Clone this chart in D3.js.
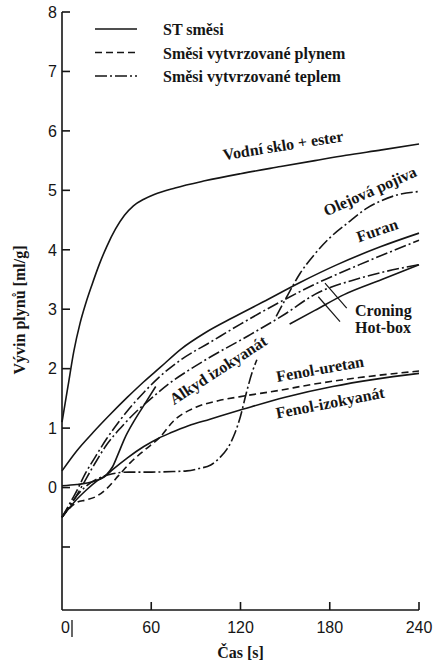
<!DOCTYPE html>
<html>
<head>
<meta charset="utf-8">
<script src="https://cdn.jsdelivr.net/npm/d3@7/dist/d3.min.js"></script>
<style>
    body { margin: 0; background: #fff; }
    svg { display: block; }
</style>
</head>
<body>
<div id="chart"></div>
<script>
// x = cas [s], y = vyvin plynu [ml/g]
var xTicks = [0, 60, 120, 180, 240];
var yTicks = [-1, 0, 1, 2, 3, 4, 5, 6, 7, 8];
var yTickLabels = ['', '0', '1', '2', '3', '4', '5', '6', '7', '8'];

var vodniSklo = [[0, 1.1], [4, 1.7], [8, 2.3], [12, 2.75], [16, 3.1], [20, 3.4], [25, 3.75], [30, 4.05], [36, 4.35], [42, 4.58],
    [48, 4.74], [55, 4.85], [62, 4.93], [76, 5.04], [96, 5.16], [120, 5.28], [147, 5.4], [170, 5.5], [191, 5.59], [215, 5.68], [240, 5.78]];
var furan = [[0, 0.28], [10, 0.62], [21, 0.93], [32, 1.22], [44, 1.52], [55, 1.78], [66, 2.02], [80, 2.33], [96, 2.6], [115, 2.86],
    [135, 3.12], [160, 3.45], [185, 3.75], [214, 4.05], [240, 4.28]];
var fenolIzokyanat = [[0, 0.03], [10, 0.05], [21, 0.1], [28, 0.17], [34, 0.3], [44, 0.5], [55, 0.69], [65, 0.83], [73, 0.92], [85, 1.04],
    [99.5, 1.15], [122, 1.32], [150, 1.52], [182, 1.7], [210, 1.82], [240, 1.92]];
var alkydIzokyanat = [[0, -0.5], [8, -0.25], [16, -0.05], [24, 0.12], [30, 0.22], [34, 0.35], [38, 0.58], [42, 0.82], [48, 1.1],
    [56, 1.42], [63, 1.7], null, [153, 2.75], [170, 2.98], [190, 3.25], [215, 3.5], [240, 3.75]];
var fenolUretan = [[0, -0.5], [5, -0.35], [10, -0.25], [16, -0.21], [23, -0.15], [30, -0.02], [38, 0.2], [46, 0.42], [55, 0.62],
    [66, 0.85], [75, 1.12], [90, 1.35], [105, 1.46], [120, 1.53], [145, 1.63], [167, 1.73], [200, 1.85], [240, 1.96]];
var olejovaPojiva = [[0, -0.5], [8, -0.2], [16, 0.02], [24, 0.15], [32, 0.22], [45, 0.26], [60, 0.26], [75, 0.27], [84, 0.28],
    [92, 0.32], [100, 0.38], [106, 0.5], [111, 0.65], [116, 0.9], [120, 1.2], [124, 1.6], [128, 1.95], [131, 2.15], null,
    [144, 2.88], [152, 3.25], [160, 3.6], [170, 3.93], [180, 4.2], [192, 4.45], [205, 4.7], [215, 4.83], [225, 4.92], [240, 4.98]];
var croning = [[0, -0.5], [5, -0.28], [10, -0.05], [16, 0.25], [22, 0.5], [30, 0.82], [38, 1.1], [46, 1.35], [55, 1.6], [65, 1.85],
    [80, 2.15], [100, 2.45], [120, 2.75], [145, 3.1], [170, 3.42], [200, 3.75], [240, 4.16]];
var hotBox = [[0, -0.5], [7, -0.25], [14, 0.05], [22, 0.4], [30, 0.72], [40, 1.02], [50, 1.28], [60, 1.5], [72, 1.75], [85, 1.97],
    [100, 2.2], [125, 2.55], [150, 2.92], [170, 3.25], [200, 3.52], [240, 3.75]];

var series = [
    { name: 'vodniSklo', values: vodniSklo, style: 'solid' },
    { name: 'furan', values: furan, style: 'solid' },
    { name: 'fenolIzokyanat', values: fenolIzokyanat, style: 'solid' },
    { name: 'alkydIzokyanat', values: alkydIzokyanat, style: 'solid' },
    { name: 'fenolUretan', values: fenolUretan, style: 'dashed' },
    { name: 'olejovaPojiva', values: olejovaPojiva, style: 'dashdot' },
    { name: 'croning', values: croning, style: 'dashdot' },
    { name: 'hotBox', values: hotBox, style: 'dashdot' }
];

var legendItems = [
    { label: 'ST směsi', style: 'solid' },
    { label: 'Směsi vytvrzované plynem', style: 'dashed' },
    { label: 'Směsi vytvrzované teplem', style: 'dashdot' }
];

// curve labels: text, position in data units, rotation
var curveLabels = [
    { text: 'Vodní sklo + ester', t: 148.6, v: 5.76, rot: -9 },
    { text: 'Olejová pojiva', t: 207, v: 4.99, rot: -24 },
    { text: 'Furan', t: 211.8, v: 4.33, rot: -19 },
    { text: 'Alkyd izokyanát', t: 104.9, v: 1.98, rot: -33 },
    { text: 'Fenol-uretan', t: 173.4, v: 2.0, rot: -10 },
    { text: 'Fenol-izokyanát', t: 180.2, v: 1.43, rot: -11 }
];
var pointerLabels = [
    { text: 'Croning', t: 197, v: 2.88, from: [191.4, 3.02], to: [176.8, 3.44] },
    { text: 'Hot-box', t: 197, v: 2.6, from: [186.9, 2.79], to: [172.3, 3.21] }
];

var dashes = { solid: null, dashed: '7,4', dashdot: '12,3,2,3' };
var ink = '#151515';
var serif = '"Liberation Serif", "Times New Roman", serif';
var sans = '"Liberation Sans", Arial, sans-serif';

var width = 438, height = 665;
var svg = d3.select('#chart').append('svg')
    .attr('width', width)
    .attr('height', height);

var x = d3.scaleLinear().domain([0, 240]).range([62, 419]);
var y = d3.scaleLinear().domain([-2.06, 8]).range([610, 12]);

// axes
var axisG = svg.append('g').attr('stroke', ink).attr('stroke-width', 1.6);
axisG.append('line').attr('x1', x(0)).attr('x2', x(0)).attr('y1', y(8)).attr('y2', y(-2.06));
axisG.append('line').attr('x1', x(0)).attr('x2', x(240)).attr('y1', y(-2.06)).attr('y2', y(-2.06));

axisG.selectAll('.ytick').data(yTicks).enter().append('line')
    .attr('x1', x(0)).attr('x2', x(0) + 8)
    .attr('y1', function (d) { return y(d); })
    .attr('y2', function (d) { return y(d); });
axisG.selectAll('.xtick').data(xTicks.slice(1)).enter().append('line')
    .attr('x1', function (d) { return x(d); })
    .attr('x2', function (d) { return x(d); })
    .attr('y1', y(-2.06)).attr('y2', y(-2.06) - 8);

svg.selectAll('.ylab').data(yTicks).enter().append('text')
    .attr('x', x(0) - 5)
    .attr('y', function (d) { return y(d); })
    .attr('dy', '0.36em')
    .attr('text-anchor', 'end')
    .style('font-family', sans).style('font-size', '16px').attr('fill', ink)
    .text(function (d, i) { return yTickLabels[i]; });

svg.selectAll('.xlab').data(xTicks).enter().append('text')
    .attr('x', function (d) { return d === 0 ? x(0) - 1 : x(d); })
    .attr('y', 633)
    .attr('text-anchor', function (d) { return d === 0 ? 'start' : 'middle'; })
    .style('font-family', sans).style('font-size', '16px').attr('fill', ink)
    .text(function (d) { return d; });
// the stray bar after the zero label
axisG.append('line').attr('x1', x(0) + 10).attr('x2', x(0) + 10).attr('y1', 620).attr('y2', 637).attr('stroke-width', 1.3);

svg.append('text')
    .attr('x', (x(0) + x(240)) / 2).attr('y', 658)
    .attr('text-anchor', 'middle')
    .style('font-family', serif).style('font-size', '16px').style('font-weight', 'bold').attr('fill', ink)
    .text('Čas [s]');

svg.append('text')
    .attr('transform', 'translate(25,310) rotate(-90)')
    .attr('text-anchor', 'middle')
    .style('font-family', serif).style('font-size', '16px').style('font-weight', 'bold').attr('fill', ink)
    .text('Vývin plynů [ml/g]');

// curves
var line = d3.line()
    .defined(function (d) { return d !== null; })
    .x(function (d) { return x(d[0]); })
    .y(function (d) { return y(d[1]); })
    .curve(d3.curveMonotoneX);

svg.append('g').selectAll('path').data(series).enter().append('path')
    .attr('d', function (d) { return line(d.values); })
    .attr('fill', 'none')
    .attr('stroke', ink)
    .attr('stroke-width', 1.6)
    .attr('stroke-dasharray', function (d) { return dashes[d.style]; });

// curve labels
svg.append('g').selectAll('text').data(curveLabels).enter().append('text')
    .attr('transform', function (d) { return 'translate(' + x(d.t) + ',' + y(d.v) + ') rotate(' + d.rot + ')'; })
    .attr('text-anchor', 'middle')
    .attr('dy', '0.35em')
    .style('font-family', serif).style('font-size', '16px').style('font-weight', 'bold').attr('fill', ink)
    .text(function (d) { return d.text; });

var pointers = svg.append('g');
pointers.selectAll('line').data(pointerLabels).enter().append('line')
    .attr('x1', function (d) { return x(d.from[0]); })
    .attr('y1', function (d) { return y(d.from[1]); })
    .attr('x2', function (d) { return x(d.to[0]); })
    .attr('y2', function (d) { return y(d.to[1]); })
    .attr('stroke', ink).attr('stroke-width', 1.2);
pointers.selectAll('text').data(pointerLabels).enter().append('text')
    .attr('x', function (d) { return x(d.t); })
    .attr('y', function (d) { return y(d.v); })
    .style('font-family', serif).style('font-size', '16px').style('font-weight', 'bold').attr('fill', ink)
    .text(function (d) { return d.text; });

// legend
var legend = svg.append('g').selectAll('g').data(legendItems).enter().append('g')
    .attr('transform', function (d, i) { return 'translate(95,' + (29 + i * 23.5) + ')'; });
legend.append('line')
    .attr('x1', 0).attr('x2', 42)
    .attr('stroke', ink).attr('stroke-width', 1.6)
    .attr('stroke-dasharray', function (d) { return dashes[d.style]; });
legend.append('text')
    .attr('x', 68).attr('y', 6)
    .style('font-family', serif).style('font-size', '16px').style('font-weight', 'bold').attr('fill', ink)
    .text(function (d) { return d.label; });
</script>
</body>
</html>
